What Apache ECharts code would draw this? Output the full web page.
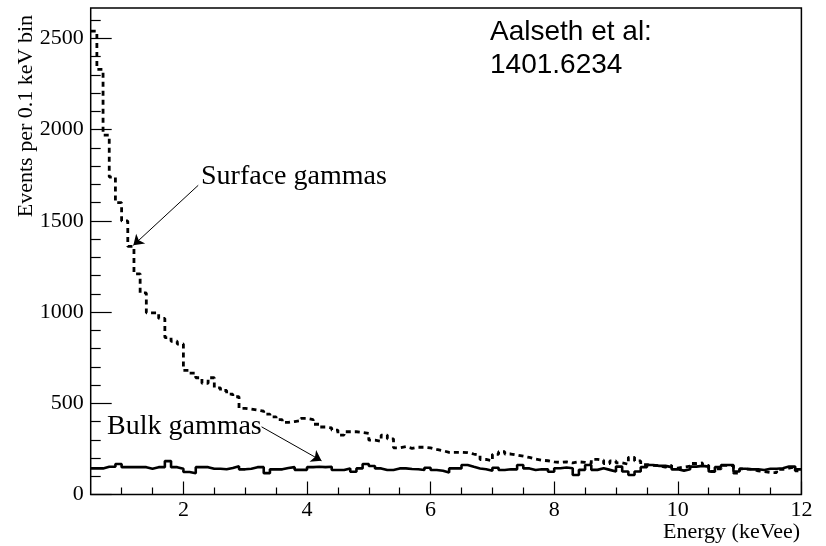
<!DOCTYPE html>
<html><head><meta charset="utf-8">
<script src="https://cdn.jsdelivr.net/npm/echarts@6/dist/echarts.min.js"></script>
<style>html,body{margin:0;padding:0;background:#fff}#c{width:826px;height:546px}</style>
</head><body><div id="c"></div>
<script>
// Histogram bins: 0.1 keV wide, starting at 0.5 keVee
const binLow = 0.5, binWidth = 0.1;
const surface = [
  2540,2330,1970,1740,1600,1500,1360,1210,1105,996,996,965,860,840,825,
  680,665,640,610,640,585,570,550,536,472,468,463,457,441,
  426,410,395,400,405,417,410,385,370,365,353,326,344,344,340,335,298,
  292,326,305,256,262,253,259,259,256,247,240,231,231,231,229,222,216,192,185,220,235,222,216,210,203,194,188,
  185,179,176,179,173,179,176,170,193,188,170,184,173,166,204,184,
  164,160,158,150,160,145,150,155,170,173,160,126,140,160,158,118,140,138,130,125,120,120,138,145,150,130
];
const bulk = [
  143,143,152,152,167,150,150,150,150,141,150,150,183,150,141,
  123,117,150,150,141,141,138,145,155,138,141,150,150,117,
  138,138,145,150,135,135,150,152,150,152,134,134,143,125,143,167,156,
  143,134,134,143,143,140,138,134,147,134,130,120,143,143,162,152,143,138,130,147,134,138,138,162,143,134,138,
  138,125,144,148,144,107,135,162,135,144,135,126,153,126,107,126,
  150,162,157,157,150,138,131,138,153,157,153,126,150,162,162,126,141,138,138,134,141,141,144,153,153,138
];
const majorX = [2,4,6,8,10,12];
const minorX = [1,1.5,2.5,3,3.5,4.5,5,5.5,6.5,7,7.5,8.5,9,9.5,10.5,11,11.5];
const majorY = [0,500,1000,1500,2000,2500];
const minorY = [100,200,300,400,600,700,800,900,1100,1200,1300,1400,1600,1700,1800,1900,2100,2200,2300,2400,2600];

function steps(vals){
  const d = vals.map((v,i)=>[+(binLow+i*binWidth).toFixed(2), v]);
  d.push([+(binLow+vals.length*binWidth).toFixed(2), vals[vals.length-1]]);
  return d;
}
const serif = 'Liberation Serif';
const chart = echarts.init(document.getElementById('c'), null, {renderer:'canvas'});
const xBase = {type:'value', min:0.5, max:12, position:'bottom', splitLine:{show:false}, axisLine:{show:false}};
const yBase = {type:'value', min:0, max:2667, position:'left', splitLine:{show:false}, axisLine:{show:false}};
const arrowLine = {
  silent:true, symbol:['none','arrow'], symbolSize:10,
  label:{show:false}, lineStyle:{color:'#000', width:1, type:'solid'},
  emphasis:{disabled:true}
};
chart.setOption({
  animation:false,
  grid:{left:90.7, right:24.6, top:8, bottom:51.5, show:true, borderColor:'#000', borderWidth:1.5, backgroundColor:'transparent'},
  xAxis:[
    Object.assign({}, xBase, {
      axisTick:{show:true, inside:true, length:13, lineStyle:{color:'#000', width:1.2}, customValues:majorX},
      axisLabel:{show:true, customValues:majorX, color:'#000', fontFamily:serif, fontSize:22, margin:5, formatter:v=>String(v)}
    }),
    Object.assign({}, xBase, {
      axisTick:{show:true, inside:true, length:7, lineStyle:{color:'#000', width:1.2}, customValues:minorX},
      axisLabel:{show:false}
    })
  ],
  yAxis:[
    Object.assign({}, yBase, {
      axisTick:{show:true, inside:true, length:21, lineStyle:{color:'#000', width:1.2}, customValues:majorY},
      axisLabel:{show:true, customValues:majorY, color:'#000', fontFamily:serif, fontSize:22, margin:7, formatter:v=>String(v)}
    }),
    Object.assign({}, yBase, {
      axisTick:{show:true, inside:true, length:10, lineStyle:{color:'#000', width:1.2}, customValues:minorY},
      axisLabel:{show:false}
    })
  ],
  series:[
    {
      name:'Surface gammas', type:'line', step:'end', xAxisIndex:0, yAxisIndex:0,
      data:steps(surface), symbol:'none', silent:true,
      lineStyle:{color:'#000', width:2.8, type:[5,4]},
      markLine:Object.assign({}, arrowLine, {data:[[{coord:[2.24,1695]},{coord:[1.19,1366]}]]})
    },
    {
      name:'Bulk gammas', type:'line', step:'end', xAxisIndex:0, yAxisIndex:0,
      data:steps(bulk), symbol:'none', silent:true,
      lineStyle:{color:'#000', width:2.6, type:'solid'},
      markLine:Object.assign({}, arrowLine, {data:[[{coord:[3.265,371]},{coord:[4.235,185]}]]})
    }
  ],
  graphic:[
    {type:'text', x:26, y:15, rotation:Math.PI/2,
     style:{text:'Events per 0.1 keV bin', fontFamily:serif, fontSize:22, fill:'#000', textAlign:'right', textVerticalAlign:'middle'}},
    {type:'text', x:800, y:532,
     style:{text:'Energy (keVee)', fontFamily:serif, fontSize:22, fill:'#000', textAlign:'right', textVerticalAlign:'middle'}},
    {type:'text', x:201, y:177,
     style:{text:'Surface gammas', fontFamily:serif, fontSize:28, fill:'#000', textAlign:'left', textVerticalAlign:'middle'}},
    {type:'text', x:107, y:427,
     style:{text:'Bulk gammas', fontFamily:serif, fontSize:28, fill:'#000', textAlign:'left', textVerticalAlign:'middle'}},
    {type:'text', x:490, y:32,
     style:{text:'Aalseth et al:', fontFamily:'Liberation Sans', fontSize:28, fill:'#000', textAlign:'left', textVerticalAlign:'middle'}},
    {type:'text', x:490, y:65,
     style:{text:'1401.6234', fontFamily:'Liberation Sans', fontSize:28, fill:'#000', textAlign:'left', textVerticalAlign:'middle'}}
  ]
});
</script></body></html>
